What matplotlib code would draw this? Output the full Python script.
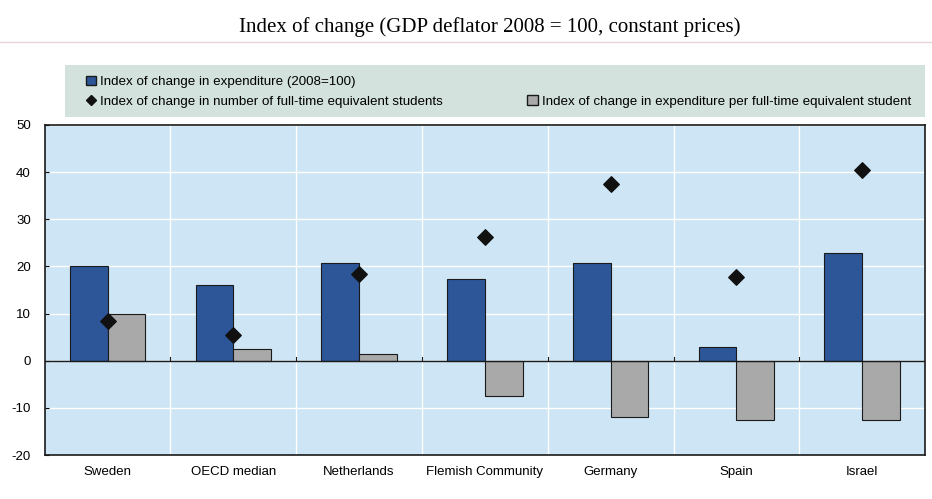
import numpy as np
import matplotlib.pyplot as plt
from matplotlib.patches import Patch, Rectangle
from matplotlib.lines import Line2D

# Datos
paises = ['Sweden', 'OECD median', 'Netherlands', 'Flemish Community',
          'Germany', 'Spain', 'Israel']
gasto = [20, 16, 20.8, 17.4, 20.8, 3, 22.8]          # expenditure (2008=100)
gasto_por_alumno = [9.9, 2.4, 1.5, -7.5, -12, -12.5, -12.5]
alumnos = [8.4, 5.4, 18.5, 26.2, 37.4, 17.7, 40.4]    # full-time equivalent students

plt.rcParams['font.family'] = ['Liberation Sans', 'DejaVu Sans']
plt.rcParams['axes.unicode_minus'] = False

fig = plt.figure(figsize=(9.32, 4.99), dpi=100)
ax = fig.add_axes([0.048, 0.088, 0.9445, 0.6615])

x = np.arange(len(paises))
w = 0.3
ax.set_facecolor('#cde5f5')
ax.bar(x - w / 2, gasto, w, color='#2c5698', edgecolor='#1a1a1a', linewidth=0.8, zorder=3)
ax.bar(x + w / 2, gasto_por_alumno, w, color='#a9a9a9', edgecolor='#1a1a1a', linewidth=0.8, zorder=3)
ax.scatter(x, alumnos, marker='D', s=62, color='#111111', zorder=4)

ax.axhline(0, color='#1a1a1a', linewidth=1.0, zorder=3)
ax.set_xlim(-0.5, len(paises) - 0.5)
ax.set_ylim(-20, 50)
ax.set_yticks(np.arange(-20, 51, 10))
ax.grid(axis='y', color='white', linewidth=1.0, zorder=0)
for b in x[:-1] + 0.5:
    ax.axvline(b, color='white', linewidth=1.0, zorder=0)
    ax.plot([b, b], [0, 0.8], color='#1a1a1a', linewidth=0.8, zorder=3)

ax.set_xticks(x)
ax.set_xticklabels(paises, fontsize=9.5)
ax.tick_params(axis='x', length=0, pad=8)
ax.tick_params(axis='y', labelsize=9.5, length=3, direction='in', pad=10)
for s in ax.spines.values():
    s.set_color('#1a1a1a')
    s.set_linewidth(1.2)

# Leyenda (fondo aparte)
fig.add_artist(Rectangle((0.07, 0.7655), 0.9225, 0.1045, transform=fig.transFigure,
                         facecolor='#d3e2dc', edgecolor='none', zorder=0))
handles = [
    Patch(facecolor='#2c5698', edgecolor='#1a1a1a'),
    Line2D([], [], marker='D', color='#111111', linestyle='none', markersize=5),
    Line2D([], [], linestyle='none'),
    Patch(facecolor='#a9a9a9', edgecolor='#1a1a1a'),
]
labels = ['Index of change in expenditure (2008=100)',
          'Index of change in number of full-time equivalent students',
          '',
          'Index of change in expenditure per full-time equivalent student']
leg = fig.legend(handles, labels, ncol=2, loc='center left',
                 bbox_to_anchor=(0.092, 0.816), frameon=False,
                 fontsize=9.6, borderaxespad=0, borderpad=0,
                 handlelength=0.8, handletextpad=0.3, labelspacing=0.55,
                 columnspacing=6.3)

fig.text(0.526, 0.945, 'Index of change (GDP deflator 2008 = 100, constant prices)',
         ha='center', va='center', fontsize=15, family='Liberation Serif')
fig.add_artist(Line2D([0, 1], [0.915, 0.915], color='#e6d6dc', linewidth=1.0))

fig.savefig('out.png', dpi=100)
